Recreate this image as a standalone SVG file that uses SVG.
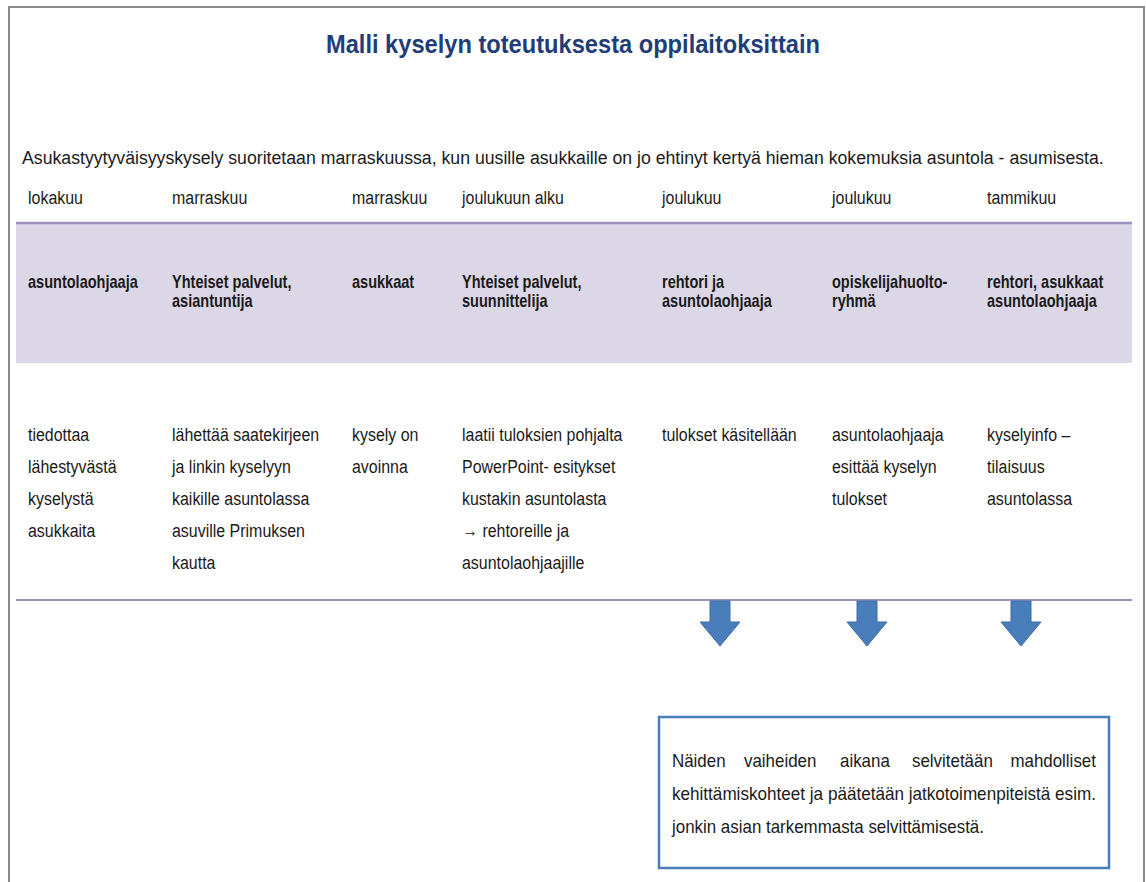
<svg xmlns="http://www.w3.org/2000/svg" width="1146" height="882" viewBox="0 0 1146 882">
<style>
.t{font-family:"Liberation Sans",Arial,sans-serif;fill:#1a1a1a;font-size:19px}
.b{font-weight:bold;font-size:17.5px}
.n{font-size:18px}
.title{font-family:"Liberation Sans",Arial,sans-serif;font-weight:bold;font-size:26px;fill:#1f3d78}
.arrow{fill:#4a7ebb;stroke:#3d6ca8;stroke-width:1}
</style>
<rect x="0" y="0" width="1146" height="882" fill="#ffffff"/>
<rect x="9" y="7" width="1135" height="900" fill="#ffffff" stroke="#8a8a8a" stroke-width="2"/>
<g id="title" transform="translate(573,0) scale(0.91,1)"><text class="title" x="0" y="53" text-anchor="middle">Malli kyselyn toteutuksesta oppilaitoksittain</text></g>
<g id="intro" transform="translate(22,0) scale(0.931,1)"><text class="t" x="0" y="164">Asukastyytyväisyyskysely suoritetaan marraskuussa, kun uusille asukkaille on jo ehtinyt kertyä hieman kokemuksia asuntola - asumisesta.</text></g>
<g id="band">
<rect x="16" y="223" width="1116" height="140" fill="#dcd7e7"/>
<line x1="16" y1="223" x2="1132" y2="223" stroke="#9d90bf" stroke-width="2.5"/>
</g>
<g id="col1" transform="translate(28,0)">
<g transform="scale(0.84,1)"><text class="t" x="0" y="204">lokakuu</text>
<text class="t" x="0" y="441">tiedottaa</text><text class="t" x="0" y="473">lähestyvästä</text><text class="t" x="0" y="505">kyselystä</text><text class="t" x="0" y="537">asukkaita</text></g>
<g transform="scale(0.83,1)"><text class="t b" x="0" y="288">asuntolaohjaaja</text></g>
</g>
<g id="col2" transform="translate(172,0)">
<g transform="scale(0.84,1)"><text class="t" x="0" y="204">marraskuu</text>
<text class="t" x="0" y="441">lähettää saatekirjeen</text><text class="t" x="0" y="473">ja linkin kyselyyn</text><text class="t" x="0" y="505">kaikille asuntolassa</text><text class="t" x="0" y="537">asuville Primuksen</text><text class="t" x="0" y="569">kautta</text></g>
<g transform="scale(0.83,1)"><text class="t b" x="0" y="288">Yhteiset palvelut,</text><text class="t b" x="0" y="307">asiantuntija</text></g>
</g>
<g id="col3" transform="translate(352,0)">
<g transform="scale(0.84,1)"><text class="t" x="0" y="204">marraskuu</text>
<text class="t" x="0" y="441">kysely on</text><text class="t" x="0" y="473">avoinna</text></g>
<g transform="scale(0.83,1)"><text class="t b" x="0" y="288">asukkaat</text></g>
</g>
<g id="col4" transform="translate(462,0)">
<g transform="scale(0.84,1)"><text class="t" x="0" y="204">joulukuun alku</text>
<text class="t" x="0" y="441">laatii tuloksien pohjalta</text><text class="t" x="0" y="473">PowerPoint- esitykset</text><text class="t" x="0" y="505">kustakin asuntolasta</text><text class="t" x="0" y="537">→ rehtoreille ja</text><text class="t" x="0" y="569">asuntolaohjaajille</text></g>
<g transform="scale(0.83,1)"><text class="t b" x="0" y="288">Yhteiset palvelut,</text><text class="t b" x="0" y="307">suunnittelija</text></g>
</g>
<g id="col5" transform="translate(662,0)">
<g transform="scale(0.84,1)"><text class="t" x="0" y="204">joulukuu</text>
<text class="t" x="0" y="441">tulokset käsitellään</text></g>
<g transform="scale(0.83,1)"><text class="t b" x="0" y="288">rehtori ja</text><text class="t b" x="0" y="307">asuntolaohjaaja</text></g>
</g>
<g id="col6" transform="translate(832,0)">
<g transform="scale(0.84,1)"><text class="t" x="0" y="204">joulukuu</text>
<text class="t" x="0" y="441">asuntolaohjaaja</text><text class="t" x="0" y="473">esittää kyselyn</text><text class="t" x="0" y="505">tulokset</text></g>
<g transform="scale(0.83,1)"><text class="t b" x="0" y="288">opiskelijahuolto-</text><text class="t b" x="0" y="307">ryhmä</text></g>
</g>
<g id="col7" transform="translate(987,0)">
<g transform="scale(0.84,1)"><text class="t" x="0" y="204">tammikuu</text>
<text class="t" x="0" y="441">kyselyinfo –</text><text class="t" x="0" y="473">tilaisuus</text><text class="t" x="0" y="505">asuntolassa</text></g>
<g transform="scale(0.83,1)"><text class="t b" x="0" y="288">rehtori, asukkaat</text><text class="t b" x="0" y="307">asuntolaohjaaja</text></g>
</g>
<g id="connectors">
<line x1="16" y1="600" x2="1132" y2="600" stroke="#9d90bf" stroke-width="2"/>
<path class="arrow" d="M710,601 H730 V622 H740 L720,646 L700,622 H710 Z"/>
<path class="arrow" d="M857,601 H877 V622 H887 L867,646 L847,622 H857 Z"/>
<path class="arrow" d="M1011,601 H1031 V622 H1041 L1021,646 L1001,622 H1011 Z"/>
</g>
<g id="note">
<rect x="659" y="717" width="450" height="151" fill="#ffffff" stroke="#4a7ebb" stroke-width="2.5"/>
<g transform="translate(672,0) scale(0.94,1)">
<text class="t n" y="767"><tspan x="0">Näiden</tspan><tspan x="76.6">vaiheiden</tspan><tspan x="178.7">aikana</tspan><tspan x="255.3">selvitetään</tspan><tspan x="451" text-anchor="end">mahdolliset</tspan></text>
<text class="t n" x="0" y="800" textLength="451" lengthAdjust="spacingAndGlyphs">kehittämiskohteet ja päätetään jatkotoimenpiteistä esim.</text>
<text class="t n" x="0" y="833">jonkin asian tarkemmasta selvittämisestä.</text>
</g>
</g>
</svg>
